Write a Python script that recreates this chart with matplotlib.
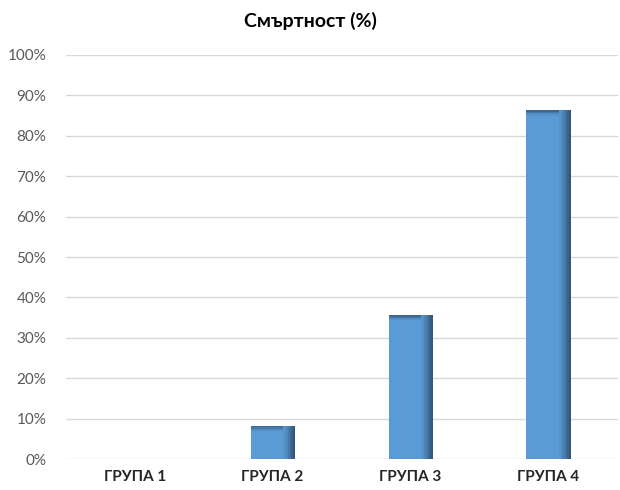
import matplotlib
matplotlib.use("Agg")
import matplotlib.pyplot as plt
import numpy as np
from matplotlib.ticker import PercentFormatter

categories = ["ГРУПА 1", "ГРУПА 2", "ГРУПА 3", "ГРУПА 4"]
mortality = [0.0, 8.2, 35.6, 86.3]
yticks = list(range(0, 101, 10))

plt.rcParams['font.family'] = ['Lato', 'DejaVu Sans']

fig = plt.figure(figsize=(6.2, 4.9), dpi=100)
ax = fig.add_axes([0.106, 0.063, 0.89, 0.825])

x = np.arange(len(categories))
width = 0.32
base = "#5B9BD5"
ax.bar(x, mortality, width=width, color=base, zorder=3, linewidth=0)

# top edge gradient
top_h = 1.3
tshades = ["#3D6891", "#4779A8", "#5087BC", "#5693CB"]
k = len(tshades)
for i, c in enumerate(tshades):
    hh = [top_h / k if m > 0 else 0 for m in mortality]
    bot = [m - top_h * (i + 1) / k for m in mortality]
    ax.bar(x, hh, width=width, bottom=bot, color=c, zorder=3.2, linewidth=0)

# right edge gradient
shades = ["#5894CC", "#538CC1", "#4D83B5", "#4779A8", "#416F9A", "#3A638B", "#33577A"]
n = len(shades)
frac = 0.26
sw = width * frac / n
for i, c in enumerate(shades):
    left = x + width / 2 - width * frac + i * sw
    ax.bar(left, mortality, width=sw, align='edge', color=c, zorder=3.4, linewidth=0)

ax.set_ylim(0, 100)
ax.set_xlim(-0.5, len(categories) - 0.5)
ax.set_yticks(yticks)
ax.yaxis.set_major_formatter(PercentFormatter(decimals=0))
ax.grid(axis='y', color='#D9D9D9', linewidth=1, zorder=0)
for s in ax.spines.values():
    s.set_visible(False)
ax.tick_params(axis='y', length=0, labelsize=11, labelcolor='#595959', pad=14)
ax.tick_params(axis='x', length=0, labelsize=11, pad=8)
ax.set_xticks(x)
ax.set_xticklabels(categories, fontweight='bold', color='#262626')
fig.suptitle("Смъртност (%)", fontsize=14, fontweight='bold', color='#000000', x=0.5, y=0.975)

fig.savefig("out.png", dpi=100)
